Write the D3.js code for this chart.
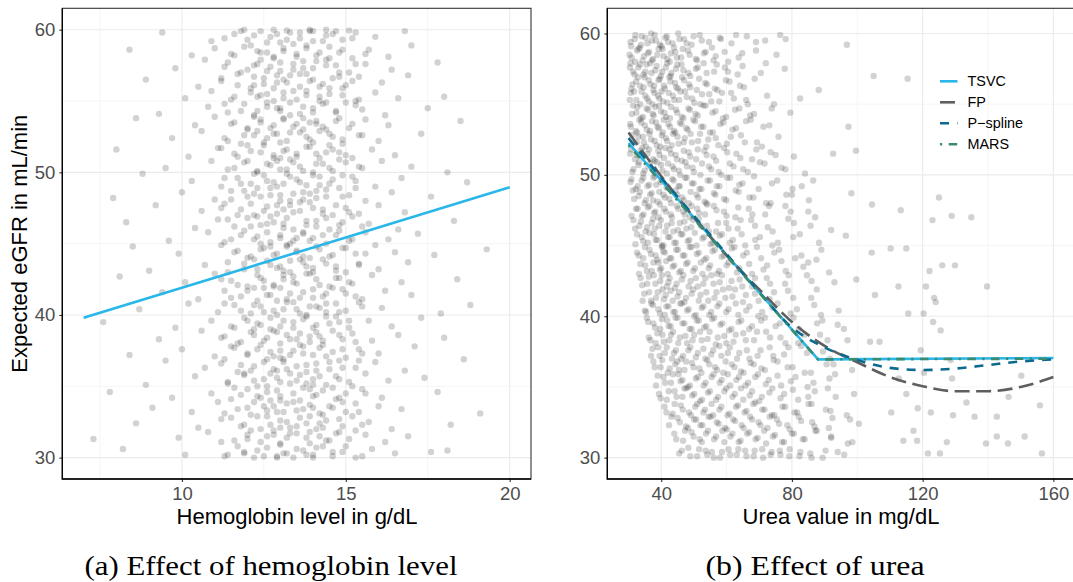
<!DOCTYPE html>
<html><head><meta charset="utf-8">
<script src="https://cdn.jsdelivr.net/npm/d3@7"></script>
<style>body{margin:0;background:#fff}svg{display:block}</style>
</head><body><svg id="c" width="1073" height="582"></svg>
<script>
// ---------------- DATA ----------------
const hbTicks = [10, 15, 20];
const hbMinor = [7.5, 12.5, 17.5];
const ureaTicks = [40, 80, 120, 160];
const ureaMinor = [60, 100, 140];
const yTicks = [30, 40, 50, 60];
const yMinor = [35, 45, 55];

// effect of hemoglobin (TSVC, linear)
const hbLineX = [7, 20];
const hbLineY = [39.8, 48.95];

// effect of urea, four methods
const seriesNames = ["TSVC", "FP", "P\u2212spline", "MARS"];
const tsvcX = [30, 88, 160];
const tsvcY = [52.25, 36.95, 37.05];
const fpX = [30, 40, 50, 60, 70, 80, 90, 100, 110, 120, 130, 140, 150, 160];
const fpY = [53.0, 49.9, 47.0, 44.3, 41.9, 39.6, 37.9, 36.75, 35.7, 35.05, 34.7, 34.7, 35.0, 35.7];
const psX = [30, 40, 50, 60, 70, 80, 90, 100, 110, 120, 130, 140, 150, 160];
const psY = [52.6, 49.8, 47.1, 44.4, 41.7, 39.2, 37.8, 36.9, 36.35, 36.2, 36.3, 36.55, 36.8, 36.95];
const marsX = [30, 88, 160];
const marsY = [52.1, 36.95, 37.0];

const hbScatter = `
8.2,30.6 10.1,30.2 11.3,30.1 11.9,30.4 12.2,30.0 12.6,30.7 12.9,30.1 13.1,30.3 13.4,30.0 13.7,30.5 14.0,30.2 14.3,30.8 14.6,30.1 14.9,30.4 15.3,30.0 15.8,30.6 16.5,30.3 17.6,30.4 18.1,30.5
7.3,31.3 9.9,31.4 10.8,31.8 11.6,31.2 12.0,31.6 12.4,31.1 12.8,31.9 13.2,31.4 13.5,31.7 13.9,31.0 14.2,31.5 14.5,31.2 14.8,31.8 15.1,31.3 15.6,31.6 16.2,31.1 16.9,31.5
8.6,32.4 10.5,32.1 11.2,32.7 11.8,32.2 12.3,32.9 12.7,32.3 13.0,32.6 13.3,32.1 13.6,32.8 13.8,32.4 14.1,32.0 14.4,32.6 14.9,32.2 15.2,32.9 15.7,32.5 16.4,32.0 18.2,32.3
9.1,33.5 10.3,33.2 11.1,33.9 11.7,33.4 12.1,33.0 12.5,33.6 12.9,33.2 13.2,33.8 13.5,33.3 13.9,33.7 14.2,33.1 14.6,33.5 14.9,33.9 15.4,33.2 16.0,33.6 16.7,33.4 19.1,33.1
7.8,34.6 9.7,34.2 10.9,34.5 11.5,34.1 12.0,34.8 12.3,34.3 12.6,34.6 13.0,34.0 13.4,34.5 13.7,34.9 14.0,34.3 14.3,34.7 14.7,34.1 15.0,34.5 15.5,34.8 16.1,34.2 17.8,34.6
8.9,35.1 10.4,35.7 11.4,35.3 11.9,35.9 12.2,35.4 12.6,35.0 12.9,35.6 13.3,35.2 13.6,35.8 14.0,35.5 14.4,35.1 14.7,35.7 15.1,35.3 15.6,35.9 16.3,35.4 17.4,35.6
9.5,36.8 10.7,36.3 11.3,36.9 11.8,36.5 12.1,36.1 12.5,36.7 12.8,36.2 13.1,36.9 13.5,36.4 13.8,36.0 14.1,36.6 14.5,36.2 14.8,36.8 15.3,36.3 15.9,36.7 16.8,36.1 18.6,36.9
8.4,37.2 10.0,37.6 11.0,37.1 11.6,37.7 12.0,37.3 12.4,37.9 12.7,37.4 13.0,37.0 13.4,37.5 13.7,37.8 14.0,37.2 14.3,37.9 14.6,37.4 15.0,37.0 15.4,37.6 16.0,37.3 17.1,37.8
9.3,38.3 10.6,38.9 11.2,38.4 11.7,38.0 12.2,38.6 12.5,38.2 12.9,38.8 13.3,38.3 13.6,38.7 13.9,38.1 14.2,38.5 14.6,38.9 14.9,38.3 15.2,38.7 15.8,38.2 16.6,38.6 18.0,38.4
7.6,39.5 9.8,39.1 10.9,39.6 11.5,39.2 11.9,39.8 12.3,39.4 12.7,39.0 13.1,39.6 13.4,39.1 13.7,39.7 14.1,39.3 14.4,39.9 14.8,39.5 15.1,39.1 15.7,39.6 16.4,39.2 17.3,39.8
8.7,40.4 10.2,40.8 11.1,40.2 11.6,40.7 12.1,40.1 12.4,40.6 12.8,40.3 13.2,40.9 13.5,40.4 13.8,40.0 14.1,40.6 14.4,40.2 14.7,40.8 15.0,40.3 15.4,40.9 16.1,40.5 17.9,40.1 18.8,40.7
9.4,41.6 10.5,41.1 11.3,41.7 11.8,41.3 12.2,41.9 12.6,41.4 12.9,41.0 13.3,41.5 13.6,41.2 14.0,41.8 14.3,41.3 14.6,41.9 15.0,41.5 15.5,41.1 16.2,41.7 17.0,41.4
8.1,42.7 10.1,42.3 11.0,42.9 11.5,42.4 12.0,42.0 12.4,42.6 12.8,42.1 13.1,42.8 13.4,42.3 13.8,42.9 14.1,42.5 14.5,42.0 14.8,42.6 15.2,42.2 15.8,42.8 16.7,42.3 18.4,42.5
9.0,43.1 10.7,43.5 11.4,43.0 11.9,43.6 12.3,43.2 12.6,43.8 13.0,43.4 13.3,43.0 13.7,43.7 14.0,43.3 14.3,43.9 14.7,43.4 15.0,43.0 15.4,43.6 16.0,43.2 16.9,43.7
8.5,44.8 9.9,44.3 11.2,44.9 11.7,44.5 12.1,44.1 12.5,44.7 12.8,44.2 13.2,44.8 13.5,44.4 13.9,44.0 14.2,44.6 14.5,44.1 14.9,44.7 15.3,44.3 15.9,44.9 16.5,44.4 17.7,44.2 19.3,44.6
9.6,45.2 10.8,45.8 11.5,45.3 11.9,45.9 12.3,45.5 12.7,45.1 13.0,45.6 13.4,45.2 13.7,45.8 14.0,45.4 14.4,45.0 14.7,45.6 15.1,45.2 15.6,45.8 16.3,45.3 17.2,45.7
8.3,46.5 10.4,46.1 11.1,46.7 11.6,46.2 12.0,46.8 12.4,46.3 12.7,46.9 13.1,46.4 13.4,46.0 13.8,46.6 14.1,46.2 14.4,46.8 14.8,46.3 15.2,46.9 15.7,46.4 16.6,46.0 18.3,46.6
9.2,47.7 10.6,47.3 11.3,47.8 11.8,47.4 12.2,47.0 12.6,47.6 12.9,47.1 13.3,47.7 13.6,47.3 13.9,47.9 14.3,47.4 14.6,47.0 15.0,47.5 15.4,47.1 16.0,47.7 16.8,47.2
7.9,48.2 10.0,48.6 11.0,48.1 11.5,48.7 12.0,48.3 12.3,48.9 12.7,48.4 13.0,48.0 13.4,48.5 13.7,48.1 14.1,48.7 14.4,48.3 14.8,48.9 15.1,48.4 15.6,48.0 16.4,48.6 17.6,48.3
8.8,49.9 10.3,49.4 11.2,49.0 11.7,49.6 12.1,49.2 12.5,49.8 12.8,49.3 13.2,49.9 13.5,49.5 13.8,49.1 14.2,49.7 14.5,49.2 14.9,49.8 15.3,49.4 15.9,49.0 16.7,49.6 18.7,49.3
9.5,50.3 10.9,50.8 11.4,50.2 11.9,50.7 12.3,50.1 12.6,50.6 13.0,50.2 13.3,50.9 13.6,50.4 14.0,50.0 14.3,50.6 14.6,50.1 15.0,50.7 15.5,50.3 16.1,50.8 17.0,50.4 18.1,50.0
8.0,51.6 10.2,51.1 11.1,51.7 11.6,51.3 12.0,51.9 12.4,51.4 12.8,51.0 13.1,51.5 13.5,51.1 13.8,51.8 14.1,51.3 14.5,51.9 14.8,51.4 15.2,51.0 15.8,51.6 16.5,51.2
9.7,52.4 10.6,52.9 11.3,52.4 11.8,52.0 12.2,52.6 12.5,52.1 12.9,52.7 13.2,52.2 13.6,52.8 13.9,52.3 14.2,52.9 14.6,52.5 14.9,52.0 15.4,52.6 16.0,52.2 17.3,52.7
8.6,53.8 10.4,53.3 11.0,53.9 11.5,53.4 12.0,53.0 12.4,53.5 12.7,53.1 13.1,53.7 13.4,53.2 13.7,53.8 14.1,53.4 14.4,53.0 14.7,53.6 15.1,53.1 15.6,53.7 16.3,53.3 18.5,53.6
9.3,54.1 10.8,54.6 11.4,54.2 11.9,54.8 12.3,54.3 12.6,54.9 13.0,54.5 13.3,54.0 13.7,54.6 14.0,54.2 14.3,54.8 14.7,54.3 15.0,54.9 15.5,54.4 16.2,54.0 17.5,54.5
10.1,55.2 10.9,55.7 11.6,55.3 12.1,55.9 12.4,55.4 12.8,55.0 13.1,55.6 13.5,55.1 13.8,55.7 14.2,55.3 14.5,55.9 14.9,55.4 15.3,55.0 15.9,55.6 16.6,55.2 18.0,55.3
8.9,56.5 10.5,56.0 11.2,56.6 11.7,56.1 12.2,56.7 12.5,56.2 12.9,56.8 13.2,56.3 13.6,56.9 13.9,56.4 14.2,56.0 14.6,56.6 15.0,56.1 15.4,56.7 16.1,56.3 16.9,56.8
9.8,57.3 10.7,57.9 11.3,57.4 11.8,57.0 12.3,57.6 12.6,57.1 13.0,57.7 13.4,57.2 13.7,57.8 14.0,57.3 14.4,57.9 14.7,57.5 15.1,57.0 15.6,57.6 16.4,57.2 17.8,57.7
8.4,58.6 10.3,58.2 11.0,58.7 11.5,58.3 12.1,58.9 12.4,58.4 12.8,58.0 13.1,58.5 13.5,58.1 13.8,58.7 14.1,58.2 14.5,58.8 14.8,58.4 15.2,58.0 15.7,58.6 16.3,58.1 17.0,58.9
9.4,59.8 10.9,59.2 11.6,59.7 12.0,59.3 12.4,59.9 12.7,59.5 13.0,59.1 13.3,59.8 13.6,59.4 14.0,59.9 14.3,59.2 14.6,59.7 14.9,59.3 15.3,59.8 15.9,59.5 16.8,59.9
11.9,60.0 12.8,60.0 13.2,59.95 13.9,60.0 14.4,60.0 15.1,59.95`;

// denser core of the hemoglobin cloud
const hbCore = `
11.4,30.2 11.7,30.8 12.3,30.5 12.5,30.1 13.0,30.9 13.2,30.3 13.5,30.6 14.0,30.0 14.1,30.7 14.6,30.4 15.0,30.8 15.5,30.1 13.8,30.2 12.9,30.0 11.9,30.3
11.2,31.1 12.0,31.3 12.1,31.9 12.6,31.5 13.0,31.0 13.3,31.7 13.8,31.4 13.9,31.8 14.4,31.2 14.7,31.7 15.3,31.9 12.8,31.6
11.5,32.8 11.9,32.3 12.4,32.0 12.6,32.9 13.2,32.5 13.5,32.2 13.9,32.9 14.2,32.4 14.3,32.1 14.8,32.7 15.5,32.3 13.0,32.1
11.3,33.1 12.0,33.5 12.2,33.9 12.8,33.6 13.1,33.2 13.4,33.9 13.7,33.4 14.3,33.0 14.5,33.6 15.0,33.2 15.3,33.8 12.6,33.3 14.0,33.5
11.6,34.9 11.8,34.4 12.4,34.2 12.9,34.7 13.0,34.3 13.6,34.0 13.9,34.8 14.1,34.4 14.6,34.9 14.8,34.2 15.6,34.5 12.7,34.0
11.4,35.2 11.9,35.8 12.3,35.0 12.5,35.5 13.0,35.3 13.3,35.9 13.5,35.4 14.0,35.1 14.2,35.7 14.8,35.5 15.2,35.0 12.7,35.9 13.8,35.2
11.2,36.6 11.7,36.0 12.2,36.4 12.6,36.9 13.1,36.7 13.2,36.2 13.8,36.5 14.1,36.1 14.5,36.7 14.9,36.3 15.4,36.8 12.9,36.1
11.5,37.8 12.0,37.2 12.3,37.6 12.8,37.1 13.0,37.5 13.6,37.9 13.7,37.3 14.2,37.7 14.4,37.1 14.9,37.6 15.5,37.3 13.3,37.2
11.3,38.5 11.8,38.1 12.1,38.8 12.6,38.4 13.0,38.0 13.2,38.6 13.5,38.3 14.1,38.8 14.3,38.2 14.8,38.6 15.3,38.1 12.8,38.9 13.9,38.5
11.6,39.1 12.0,39.6 12.4,39.3 12.7,39.8 13.0,39.2 13.4,39.5 13.8,39.9 14.0,39.1 14.5,39.4 14.7,39.9 15.1,39.6 12.2,39.0
11.3,40.8 11.8,40.3 12.2,40.7 12.5,40.2 13.1,40.4 13.4,40.9 13.6,40.1 14.2,40.5 14.4,40.8 14.8,40.2 15.5,40.6 12.9,40.0 13.9,40.6
11.5,41.2 12.0,41.7 12.3,41.0 12.7,41.4 13.0,41.9 13.2,41.1 13.7,41.6 14.0,41.2 14.4,41.5 14.9,41.8 15.3,41.3 12.5,41.9
11.2,42.5 11.7,42.1 12.3,42.8 12.5,42.4 12.8,42.0 13.4,42.7 13.5,42.2 13.9,42.9 14.2,42.1 14.7,42.6 15.1,42.3 13.1,42.5
11.4,43.7 11.9,43.2 12.2,43.9 12.7,43.5 13.1,43.1 13.3,43.8 13.8,43.4 14.0,43.0 14.4,43.6 14.7,43.1 15.4,43.5 12.9,43.3 13.6,43.9
11.6,44.4 12.0,44.0 12.4,44.6 12.9,44.3 13.2,44.9 13.5,44.5 13.7,44.1 14.1,44.8 14.6,44.2 15.0,44.7 15.6,44.3 12.7,44.8
11.3,45.1 11.8,45.6 12.2,45.3 12.6,45.8 13.0,45.4 13.3,45.0 13.7,45.7 13.9,45.2 14.3,45.6 14.8,45.9 15.2,45.3 12.4,45.0 13.5,45.4
11.4,46.7 12.1,46.2 12.3,46.9 12.8,46.5 13.1,46.1 13.2,46.8 13.8,46.3 14.1,46.6 14.5,46.0 14.9,46.5 15.5,46.2 12.6,46.4
11.2,47.5 11.7,47.0 12.1,47.8 12.5,47.3 12.9,47.7 13.4,47.2 13.6,47.9 14.0,47.5 14.3,47.1 14.7,47.7 15.1,47.2 13.1,47.4
11.5,48.1 11.9,48.7 12.4,48.3 12.7,48.9 13.0,48.4 13.3,48.0 13.7,48.6 14.1,48.2 14.4,48.8 14.9,48.3 15.3,48.9 12.2,48.5 13.9,48.5
11.3,49.6 11.8,49.2 12.2,49.9 12.6,49.4 12.9,49.0 13.3,49.7 13.6,49.3 14.0,49.8 14.2,49.1 14.6,49.5 15.2,49.7 13.1,49.2
11.6,50.3 12.0,50.8 12.3,50.0 12.7,50.5 13.2,50.2 13.4,50.7 13.7,50.1 14.1,50.6 14.5,50.3 14.8,50.9 15.4,50.4 12.9,50.8
11.2,51.7 11.7,51.1 12.1,51.5 12.5,51.9 12.8,51.2 13.2,51.6 13.5,51.3 13.9,51.8 14.2,51.0 14.6,51.6 15.0,51.2 13.0,51.0 14.4,51.4
11.4,52.2 11.9,52.6 12.3,52.9 12.6,52.4 13.0,52.1 13.3,52.8 13.8,52.5 14.0,52.1 14.5,52.7 14.9,52.3 15.5,52.6 12.8,52.7
11.6,53.5 12.0,53.1 12.4,53.7 12.8,53.3 13.1,53.8 13.5,53.4 13.7,53.0 14.1,53.6 14.3,53.2 14.8,53.8 15.2,53.4 12.2,53.9 13.9,53.5
11.3,54.8 11.8,54.3 12.2,54.0 12.6,54.6 13.0,54.3 13.3,54.9 13.6,54.1 14.0,54.5 14.4,54.9 14.7,54.2 15.3,54.7 12.9,54.5
11.5,55.1 12.1,55.6 12.3,55.3 12.8,55.9 13.1,55.2 13.4,55.7 13.8,55.4 14.2,55.0 14.5,55.5 14.9,55.9 15.4,55.1 12.6,55.5
11.2,56.4 11.7,56.9 12.2,56.1 12.5,56.6 12.9,56.3 13.3,56.8 13.6,56.0 14.0,56.5 14.3,56.2 14.8,56.7 15.2,56.4 13.1,56.5 13.8,56.9
11.4,57.7 12.0,57.2 12.4,57.9 12.7,57.4 13.0,57.1 13.4,57.6 13.7,57.3 14.1,57.8 14.4,57.5 14.8,57.0 15.3,57.6 12.2,57.5
11.6,58.2 11.9,58.8 12.3,58.5 12.8,58.1 13.1,58.7 13.5,58.3 13.8,58.9 14.2,58.4 14.5,58.0 14.9,58.6 15.6,58.3 12.6,58.4
11.3,59.4 11.8,59.9 12.2,59.6 12.6,59.1 12.9,59.7 13.2,59.3 13.6,59.8 14.0,59.2 14.4,59.6 14.7,59.9 15.2,59.4 13.4,59.0 13.9,59.9`;

const ureaScatter = `
30.6,59.4 32.1,59.9 33.8,59.2 35.2,59.7 36.9,60.0 38.4,59.5 40.1,59.1 41.7,59.8 43.5,59.3 45.2,60.0 47.0,59.6 49.3,59.2 51.8,59.9 54.6,59.4 57.9,59.7 61.5,59.3 66.2,59.8 71.8,59.5 76.4,59.9 78.1,59.6 96.8,59.2
30.9,58.3 32.6,58.8 34.3,58.1 35.9,58.6 37.5,58.2 39.2,58.9 40.8,58.4 42.6,58.0 44.3,58.7 46.1,58.3 48.2,58.8 50.6,58.2 53.1,58.6 56.0,58.1 59.4,58.7 63.7,58.3 69.0,58.8 75.3,58.5
30.4,57.6 31.8,57.1 33.5,57.8 35.1,57.3 36.6,57.9 38.2,57.4 39.9,57.0 41.4,57.6 43.1,57.2 44.9,57.8 46.8,57.4 48.9,57.0 51.2,57.6 53.9,57.2 57.0,57.8 60.4,57.3 64.9,57.7 70.5,57.2 77.8,57.5 105.0,57.0 115.4,56.8
31.2,56.4 32.9,56.9 34.6,56.2 36.2,56.7 37.8,56.3 39.5,56.8 41.1,56.1 42.8,56.6 44.6,56.2 46.4,56.9 48.5,56.4 50.9,56.0 53.5,56.5 56.4,56.1 59.8,56.7 64.1,56.3 68.6,56.8 88.2,56.0
30.7,55.8 32.4,55.3 34.0,55.9 35.7,55.4 37.3,55.0 39.0,55.6 40.6,55.2 42.3,55.8 44.0,55.3 45.9,55.9 47.8,55.5 50.1,55.1 52.5,55.7 55.3,55.2 58.6,55.8 62.2,55.4 66.5,55.0 72.4,55.6 82.5,55.4
31.0,54.3 32.7,54.8 34.4,54.1 36.0,54.6 37.7,54.2 39.3,54.9 41.0,54.4 42.7,54.0 44.5,54.6 46.3,54.1 48.3,54.7 50.5,54.3 52.9,54.9 55.7,54.4 58.9,54.0 62.6,54.6 67.2,54.2 73.8,54.7 79.5,54.4
30.5,53.6 32.2,53.1 33.9,53.7 35.6,53.2 37.2,53.8 38.9,53.4 40.5,53.0 42.2,53.6 43.9,53.1 45.7,53.7 47.7,53.3 49.8,53.9 52.2,53.4 54.9,53.0 58.1,53.6 61.8,53.2 66.0,53.8 71.3,53.4 97.3,53.4
31.3,52.2 33.0,52.7 34.7,52.3 36.4,52.9 38.0,52.4 39.7,52.0 41.4,52.6 43.2,52.1 45.0,52.7 46.9,52.3 49.0,52.9 51.3,52.4 53.8,52.0 56.7,52.6 60.1,52.2 64.4,52.8 69.3,52.3 75.9,52.7
30.8,51.8 32.5,51.4 34.2,51.9 35.8,51.5 37.5,51.1 39.1,51.7 40.9,51.2 42.6,51.8 44.4,51.4 46.3,51.0 48.4,51.6 50.7,51.1 53.2,51.7 56.0,51.3 59.2,51.9 63.0,51.5 67.8,51.1 73.5,51.6 80.6,51.3 92.6,51.5 99.6,51.7
31.5,50.4 33.2,50.9 34.9,50.3 36.6,50.8 38.3,50.2 40.0,50.7 41.7,50.1 43.5,50.6 45.4,50.3 47.4,50.9 49.6,50.5 52.0,50.0 54.6,50.6 57.6,50.2 61.0,50.8 65.1,50.4 70.2,50.9 76.8,50.5 84.0,50.1
30.9,49.7 32.8,49.2 34.5,49.8 36.3,49.3 38.0,49.9 39.8,49.5 41.6,49.1 43.4,49.7 45.3,49.2 47.3,49.8 49.4,49.4 51.7,49.0 54.2,49.6 57.0,49.2 60.2,49.8 63.9,49.3 68.4,49.9 73.9,49.4 80.2,49.0 86.5,49.6
31.7,48.3 33.5,48.8 35.3,48.2 37.1,48.7 38.9,48.1 40.7,48.6 42.5,48.3 44.4,48.9 46.4,48.4 48.5,48.0 50.8,48.6 53.3,48.1 56.1,48.7 59.2,48.3 62.8,48.9 67.0,48.4 72.1,48.0 78.3,48.6 85.2,48.2 98.2,48.7 104.5,47.9 125.0,48.4
32.3,47.6 34.1,47.1 35.9,47.7 37.8,47.3 39.6,47.9 41.4,47.4 43.3,47.0 45.2,47.6 47.2,47.2 49.3,47.8 51.6,47.3 54.1,47.9 56.9,47.5 60.0,47.1 63.6,47.7 67.9,47.2 73.0,47.8 79.6,47.4 87.1,47.0 113.3,47.5 128.9,47.1 134.9,47.0
32.0,46.2 33.8,46.7 35.7,46.3 37.5,46.9 39.4,46.4 41.3,46.0 43.2,46.6 45.1,46.1 47.1,46.7 49.2,46.3 51.5,46.9 54.0,46.4 56.8,46.0 59.9,46.6 63.4,46.2 67.5,46.8 72.6,46.3 78.9,46.9 85.7,46.4 92.0,46.1 123.0,46.8
32.6,45.8 34.5,45.3 36.4,45.9 38.3,45.4 40.2,45.0 42.1,45.6 44.0,45.2 46.0,45.8 48.1,45.3 50.3,45.9 52.6,45.5 55.1,45.1 57.9,45.7 61.0,45.2 64.6,45.8 68.8,45.4 74.0,45.0 80.4,45.6 88.3,45.2 96.5,45.7
33.1,44.3 35.0,44.9 36.9,44.4 38.8,44.0 40.7,44.6 42.6,44.1 44.6,44.7 46.6,44.3 48.7,44.9 50.9,44.4 53.2,44.0 55.7,44.6 58.5,44.2 61.6,44.8 65.1,44.3 69.3,44.9 74.6,44.5 81.0,44.1 89.0,44.7 104.4,44.5 110.2,44.8 115.0,44.8
33.6,43.7 35.6,43.2 37.6,43.8 39.6,43.3 41.5,43.9 43.5,43.5 45.5,43.1 47.6,43.7 49.8,43.2 52.1,43.8 54.5,43.4 57.1,43.0 60.0,43.6 63.2,43.1 66.9,43.7 71.3,43.3 76.8,43.9 83.5,43.5 91.4,43.1 122.1,43.2 126.0,43.6 129.9,43.6
34.2,42.2 36.2,42.8 38.2,42.3 40.2,42.9 42.2,42.4 44.2,42.0 46.3,42.6 48.4,42.1 50.6,42.7 52.9,42.3 55.3,42.9 57.9,42.4 60.8,42.0 64.0,42.6 67.8,42.1 72.3,42.7 77.9,42.3 84.6,42.9 93.0,42.4 99.7,42.6 112.6,42.1 121.0,42.1 139.7,42.1
34.8,41.6 36.9,41.1 38.9,41.7 40.9,41.2 42.9,41.8 45.0,41.4 47.1,41.0 49.3,41.6 51.5,41.1 53.8,41.7 56.3,41.3 58.9,41.9 61.8,41.4 65.0,41.0 68.7,41.6 73.2,41.2 78.8,41.8 85.9,41.3 105.4,41.5 123.5,41.3 124.0,41.0
35.4,40.3 37.5,40.8 39.6,40.2 41.6,40.7 43.7,40.3 45.8,40.9 47.9,40.4 50.1,40.0 52.4,40.6 54.7,40.1 57.2,40.7 59.9,40.3 62.8,40.9 66.0,40.4 69.7,40.0 74.1,40.6 79.6,40.2 86.8,40.8 94.3,40.4 115.6,40.2 120.3,40.2
36.0,39.6 38.1,39.2 40.2,39.8 42.3,39.3 44.4,39.9 46.5,39.5 48.7,39.1 50.9,39.7 53.2,39.2 55.6,39.8 58.1,39.4 60.8,39.0 63.7,39.6 66.9,39.1 70.6,39.7 75.0,39.3 80.5,39.9 87.7,39.5 95.9,39.1 123.2,39.6 125.5,39.0
36.7,38.3 38.8,38.8 40.9,38.2 43.0,38.7 45.2,38.1 47.4,38.6 49.6,38.3 51.9,38.9 54.2,38.4 56.7,38.0 59.3,38.6 62.1,38.2 65.1,38.8 68.4,38.3 72.1,38.9 76.5,38.5 81.9,38.1 88.6,38.7 97.0,38.3 103.9,38.2 106.8,38.2
37.3,37.7 39.5,37.2 41.7,37.8 43.9,37.4 46.1,37.0 48.3,37.6 50.6,37.1 52.9,37.7 55.3,37.3 57.8,37.9 60.4,37.4 63.2,37.0 66.2,37.6 69.5,37.2 73.2,37.8 77.6,37.3 82.8,37.9 89.5,37.5 119.4,37.6 128.6,36.9
38.0,36.4 40.3,36.9 42.6,36.3 44.9,36.8 47.1,36.2 49.4,36.7 51.7,36.3 54.1,36.9 56.5,36.4 59.0,36.0 61.6,36.6 64.4,36.1 67.4,36.7 70.7,36.3 74.4,36.9 78.7,36.4 83.9,36.0 90.6,36.6 98.4,36.2 120.4,36.0
38.9,35.8 41.2,35.3 43.6,35.9 45.9,35.4 48.2,35.0 50.6,35.6 53.0,35.1 55.4,35.7 57.9,35.3 60.4,35.9 63.0,35.5 65.8,35.1 68.8,35.7 72.0,35.2 75.6,35.8 79.7,35.4 84.8,35.0 91.5,35.6 112.7,35.6 129.0,35.6 150.2,35.8
39.8,34.2 42.3,34.7 44.7,34.3 47.1,34.9 49.5,34.4 51.9,34.0 54.3,34.6 56.8,34.1 59.3,34.7 61.8,34.3 64.4,34.9 67.1,34.4 70.0,34.0 73.1,34.6 76.5,34.2 80.3,34.8 85.0,34.3 91.0,34.9 99.0,34.5 115.0,34.5 133.4,33.9 146.3,34.3
41.0,33.6 43.5,33.1 46.0,33.7 48.5,33.2 51.0,33.8 53.4,33.4 55.9,33.0 58.4,33.6 60.9,33.1 63.5,33.7 66.1,33.3 68.8,33.9 71.6,33.4 74.6,33.0 77.9,33.6 81.6,33.2 86.0,33.8 91.8,33.3 110.4,33.2 118.5,33.5 122.5,33.2 129.3,33.0 155.9,33.7
42.4,32.3 45.0,32.8 47.6,32.2 50.1,32.7 52.6,32.3 55.1,32.9 57.6,32.4 60.1,32.0 62.6,32.6 65.2,32.1 67.8,32.7 70.4,32.3 73.2,32.9 76.1,32.4 79.3,32.0 82.8,32.6 86.9,32.2 92.4,32.8 100.5,32.4 135.9,32.9 142.7,32.9
44.0,31.7 46.7,31.2 49.3,31.8 51.8,31.3 54.3,31.9 56.8,31.5 59.3,31.1 61.8,31.7 64.3,31.2 66.9,31.8 69.5,31.4 72.1,31.0 74.8,31.6 77.6,31.1 80.6,31.7 83.9,31.3 87.6,31.9 92.0,31.4 97.1,31.0 114.1,31.2 117.2,31.9 118.3,31.2 127.4,31.1 139.4,31.0 142.7,31.5 146.1,31.0 151.2,31.5
45.5,30.3 48.3,30.7 51.0,30.1 53.6,30.5 56.1,30.0 58.6,30.4 61.1,30.2 63.6,30.6 66.1,30.1 68.6,30.5 71.2,30.0 73.8,30.4 76.5,30.2 79.3,30.6 82.3,30.1 85.6,30.3 89.4,30.0 94.0,30.4 121.6,30.3 125.3,30.3 156.5,30.3`;

// denser core of the urea cloud
const ureaCore = `
30.8,59.1 31.9,59.6 33.4,59.0 34.0,59.8 35.8,59.3 37.1,59.5 38.0,59.9 39.6,59.2 41.3,59.7 42.1,59.4 43.9,59.0 45.6,59.6 47.8,59.3 49.9,59.8 52.4,59.5 55.5,59.0 58.3,59.6 62.9,59.9 69.0,59.4
30.3,58.5 32.0,58.0 33.1,58.9 34.7,58.4 36.3,58.7 37.2,58.1 38.8,58.5 40.4,58.9 41.9,58.2 43.0,58.6 44.8,58.3 46.6,58.9 48.7,58.5 51.0,58.1 53.6,58.7 56.7,58.4 60.5,58.0 64.8,58.6
30.6,57.9 31.4,57.3 33.0,57.6 34.6,57.1 35.5,57.8 37.0,57.2 38.6,57.7 40.3,57.3 41.8,57.9 42.9,57.0 44.5,57.5 46.2,57.8 48.3,57.2 50.6,57.5 53.0,57.9 56.2,57.3 59.5,57.6 63.4,57.1 72.0,57.9
30.9,56.1 32.3,56.6 33.5,56.3 34.9,56.9 36.7,56.4 37.6,56.0 39.2,56.7 40.9,56.3 42.5,56.9 44.2,56.5 45.1,56.1 47.0,56.7 48.9,56.2 51.6,56.8 54.0,56.4 57.2,56.0 60.9,56.6 65.3,56.2
30.4,55.3 31.7,55.9 33.6,55.0 35.1,55.6 36.2,55.2 37.9,55.8 39.4,55.4 40.1,55.9 41.9,55.1 43.6,55.6 45.5,55.3 47.3,55.9 49.5,55.4 52.0,55.0 54.7,55.7 57.8,55.2 61.4,55.8 66.0,55.3 74.5,55.0
31.4,54.9 32.4,54.4 33.9,54.0 35.5,54.7 37.4,54.3 38.2,54.8 39.9,54.5 41.5,54.1 43.0,54.8 44.9,54.4 46.8,54.0 48.8,54.6 51.2,54.2 53.6,54.9 56.6,54.5 59.9,54.1 63.9,54.7 68.4,54.3
30.7,53.4 32.6,53.0 33.3,53.9 35.0,53.5 36.6,53.1 38.4,53.7 39.2,53.3 40.9,53.9 42.7,53.4 44.3,53.0 46.2,53.6 48.1,53.2 50.4,53.8 52.9,53.4 55.8,53.0 59.0,53.7 62.9,53.3 67.4,53.9 73.1,53.5
31.0,52.8 32.5,52.3 34.4,52.7 35.3,52.0 36.9,52.5 38.6,52.1 40.2,52.8 41.8,52.4 43.6,52.9 45.3,52.2 47.2,52.6 49.4,52.3 51.9,52.9 54.4,52.5 57.5,52.1 61.3,52.7 65.6,52.3 70.8,52.0
30.5,51.5 32.0,51.1 33.7,51.7 34.6,51.3 36.3,51.8 38.0,51.0 39.5,51.4 41.3,51.9 43.0,51.5 44.8,51.1 46.9,51.7 48.9,51.3 51.2,51.8 53.9,51.4 56.8,51.0 60.2,51.6 64.2,51.2 69.1,51.8 75.0,51.4
31.2,50.2 33.0,50.7 34.5,50.1 36.1,50.6 37.9,50.4 38.7,50.9 40.4,50.3 42.1,50.8 43.9,50.4 45.8,50.0 47.9,50.6 50.0,50.2 52.5,50.8 55.3,50.4 58.4,50.0 62.1,50.6 66.5,50.2 71.6,50.8 78.0,50.4
30.6,49.5 32.2,49.0 34.0,49.6 35.8,49.2 37.6,49.8 38.5,49.3 40.2,49.7 42.0,49.1 43.8,49.6 45.7,49.2 47.8,49.8 49.9,49.4 52.3,49.0 54.9,49.6 57.8,49.2 61.1,49.8 64.9,49.4 69.8,49.0 75.5,49.6 83.0,49.2
31.3,48.9 33.1,48.5 34.9,48.0 36.6,48.6 37.5,48.2 39.4,48.8 41.2,48.4 43.0,48.0 44.9,48.6 46.9,48.2 49.0,48.8 51.3,48.4 53.8,48.0 56.6,48.6 59.9,48.2 63.7,48.8 68.2,48.4 73.5,48.0 80.0,48.6
30.9,47.1 32.8,47.6 34.6,47.2 36.4,47.8 38.2,47.4 39.1,47.0 41.0,47.6 42.9,47.2 44.8,47.8 46.7,47.4 48.8,47.0 51.0,47.6 53.4,47.2 56.1,47.8 59.2,47.4 62.7,47.0 66.8,47.6 71.8,47.2 78.0,47.8 85.0,47.4
31.5,46.8 33.3,46.4 35.2,46.0 37.1,46.6 38.0,46.2 39.9,46.8 41.8,46.4 43.7,46.0 45.7,46.6 47.7,46.2 49.8,46.8 52.1,46.4 54.6,46.0 57.4,46.6 60.6,46.2 64.3,46.8 68.7,46.4 74.1,46.0 80.6,46.6
32.1,45.1 34.0,45.6 35.9,45.2 37.8,45.8 38.8,45.4 40.7,45.0 42.6,45.6 44.5,45.2 46.5,45.8 48.6,45.4 50.8,45.0 53.1,45.6 55.7,45.2 58.6,45.8 61.9,45.4 65.7,45.0 70.2,45.6 75.7,45.2 82.4,45.8
32.6,44.5 34.5,44.1 36.4,44.7 38.3,44.3 40.2,44.9 41.1,44.5 43.1,44.1 45.1,44.7 47.1,44.3 49.2,44.9 51.5,44.5 53.8,44.1 56.4,44.7 59.2,44.3 62.4,44.9 66.2,44.5 70.6,44.1 76.1,44.7 82.9,44.3 87.5,44.0
33.2,43.0 35.1,43.6 37.1,43.2 39.1,43.8 40.0,43.4 42.0,43.0 44.0,43.6 46.0,43.2 48.1,43.8 50.3,43.4 52.6,43.0 55.0,43.6 57.7,43.2 60.6,43.8 63.9,43.4 67.8,43.0 72.4,43.6 78.1,43.2 85.0,43.8
33.7,42.7 35.7,42.3 37.7,42.9 39.7,42.5 41.7,42.1 42.6,42.7 44.7,42.3 46.8,42.9 49.0,42.5 51.2,42.1 53.5,42.7 56.0,42.3 58.6,42.9 61.5,42.5 64.8,42.1 68.7,42.7 73.3,42.3 79.0,42.9 86.0,42.5
34.3,41.1 36.3,41.7 38.4,41.3 40.4,41.9 41.4,41.5 43.5,41.1 45.5,41.7 47.6,41.3 49.8,41.9 52.0,41.5 54.4,41.1 56.9,41.7 59.6,41.3 62.6,41.9 65.9,41.5 69.8,41.1 74.5,41.7 80.4,41.3 87.6,41.9
35.0,40.4 37.0,40.9 39.1,40.5 41.1,40.1 42.2,40.7 44.2,40.3 46.3,40.9 48.4,40.5 50.6,40.1 52.9,40.7 55.3,40.3 57.8,40.9 60.6,40.5 63.6,40.1 67.0,40.7 70.9,40.3 75.6,40.9 81.5,40.5 88.9,40.1
35.6,39.9 37.6,39.5 39.7,39.1 41.8,39.7 42.9,39.3 45.0,39.9 47.1,39.5 49.3,39.1 51.5,39.7 53.8,39.3 56.2,39.9 58.7,39.5 61.5,39.1 64.5,39.7 67.8,39.3 71.7,39.9 76.3,39.5 82.1,39.1 89.3,39.7 94.0,39.4
36.2,38.5 38.3,38.1 40.4,38.7 42.5,38.3 43.6,38.9 45.7,38.5 47.9,38.1 50.1,38.7 52.4,38.3 54.8,38.9 57.3,38.5 59.9,38.1 62.8,38.7 65.9,38.3 69.3,38.9 73.3,38.5 78.0,38.1 83.8,38.7 90.9,38.3
36.9,37.2 39.0,37.8 41.1,37.4 43.3,37.0 44.5,37.6 46.7,37.2 48.9,37.8 51.2,37.4 53.5,37.0 55.9,37.6 58.4,37.2 61.0,37.8 63.9,37.4 67.0,37.0 70.4,37.6 74.3,37.2 78.9,37.8 84.6,37.4 91.6,37.0
37.6,36.8 39.8,36.4 42.0,36.0 44.3,36.6 45.4,36.2 47.6,36.8 49.9,36.4 52.3,36.0 54.7,36.6 57.1,36.2 59.7,36.8 62.4,36.4 65.2,36.0 68.3,36.6 71.7,36.2 75.6,36.8 80.2,36.4 85.8,36.0 92.7,36.6
38.4,35.1 40.7,35.7 43.0,35.3 45.3,35.9 46.5,35.5 48.8,35.1 51.2,35.7 53.6,35.3 56.0,35.9 58.5,35.5 61.1,35.1 63.8,35.7 66.6,35.3 69.6,35.9 72.9,35.5 76.7,35.1 81.1,35.7 86.6,35.3 93.2,35.9
39.3,34.5 41.7,34.1 44.1,34.7 46.5,34.3 47.7,34.9 50.1,34.5 52.5,34.1 54.9,34.7 57.4,34.3 59.9,34.9 62.5,34.5 65.1,34.1 67.8,34.7 70.8,34.3 74.0,34.9 77.6,34.5 81.9,34.1 87.0,34.7 93.4,34.3
41.6,33.2 44.1,33.8 46.6,33.4 49.1,33.0 50.4,33.6 52.9,33.2 55.4,33.8 57.8,33.4 60.3,33.0 62.9,33.6 65.5,33.2 68.2,33.8 70.9,33.4 73.9,33.0 77.1,33.6 80.8,33.2 85.1,33.8 90.4,33.4 96.8,33.0
43.1,32.9 45.7,32.5 48.2,32.1 50.7,32.7 52.0,32.3 54.5,32.9 57.0,32.5 59.5,32.1 62.0,32.7 64.6,32.3 67.2,32.9 69.8,32.5 72.5,32.1 75.4,32.7 78.6,32.3 82.1,32.9 86.2,32.5 91.3,32.1 97.8,32.7
44.6,31.3 47.3,31.9 49.9,31.5 52.4,31.1 53.7,31.7 56.2,31.3 58.7,31.9 61.2,31.5 63.7,31.1 66.3,31.7 68.9,31.3 71.5,31.9 74.2,31.5 77.0,31.1 80.0,31.7 83.3,31.3 87.2,31.9 92.0,31.5 98.5,31.1
46.3,30.5 48.9,30.1 51.6,30.6 54.1,30.2 55.5,30.4 58.0,30.0 60.6,30.6 63.1,30.2 65.7,30.5 68.3,30.1 70.9,30.6 73.5,30.2 76.3,30.5 79.2,30.1 82.6,30.4 86.0,30.0 90.3,30.5 96.0,30.2`;

const parsePairs = s => s.trim().split(/\s+/).map(p => p.split(",").map(Number));
const hbPts = parsePairs(hbScatter).concat(parsePairs(hbCore));
const ureaPts = parsePairs(ureaScatter).concat(parsePairs(ureaCore));

// ---------------- DRAW ----------------
const svg = d3.select("#c");
const SANS = "'Liberation Sans', Arial, Helvetica, sans-serif";
const SERIF = "'Liberation Serif', 'Times New Roman', serif";
const colors = {TSVC: "#29b6e8", FP: "#5e5e5e", PS: "#0b6a8e", MARS: "#3b8b6f"};
const LW = 2.6;

function panel(cfg) {
  const {x, y, xMajor, xMinor, pts, id} = cfg;
  const [px0, px1] = x.range();
  const [py1, py0] = y.range();
  const g = svg.append("g");
  g.append("clipPath").attr("id", id).append("rect")
    .attr("x", px0).attr("y", py0).attr("width", px1 - px0).attr("height", py1 - py0);
  const gp = g.append("g").attr("clip-path", `url(#${id})`);
  gp.selectAll(".vmin").data(xMinor).join("line")
    .attr("x1", d => x(d)).attr("x2", d => x(d)).attr("y1", py0).attr("y2", py1)
    .attr("stroke", "#f3f3f3").attr("stroke-width", 0.8);
  gp.selectAll(".hmin").data(yMinor).join("line")
    .attr("y1", d => y(d)).attr("y2", d => y(d)).attr("x1", px0).attr("x2", px1)
    .attr("stroke", "#f3f3f3").attr("stroke-width", 0.8);
  gp.selectAll(".vmaj").data(xMajor).join("line")
    .attr("x1", d => x(d)).attr("x2", d => x(d)).attr("y1", py0).attr("y2", py1)
    .attr("stroke", "#ebebeb").attr("stroke-width", 1.1);
  gp.selectAll(".hmaj").data(yTicks).join("line")
    .attr("y1", d => y(d)).attr("y2", d => y(d)).attr("x1", px0).attr("x2", px1)
    .attr("stroke", "#ebebeb").attr("stroke-width", 1.1);
  gp.selectAll("circle").data(pts).join("circle")
    .attr("cx", d => x(d[0])).attr("cy", d => y(d[1])).attr("r", 3.2)
    .attr("fill", "#000").attr("fill-opacity", 0.175);
  const ax = g.append("g").attr("transform", `translate(0,${py1})`)
    .call(d3.axisBottom(x).tickValues(xMajor).tickSize(3).tickSizeOuter(0).tickPadding(5));
  const ay = g.append("g").attr("transform", `translate(${px0},0)`)
    .call(d3.axisLeft(y).tickValues(yTicks).tickSize(3).tickSizeOuter(0).tickPadding(4));
  [ax, ay].forEach(a => {
    a.select(".domain").remove();
    a.selectAll(".tick line").attr("stroke", "#333").attr("stroke-width", 1.1);
    a.selectAll(".tick text").attr("fill", "#4d4d4d").style("font-family", SANS).style("font-size", "18.5px");
  });
  g.append("rect").attr("x", px0).attr("y", py0).attr("width", px1 - px0).attr("height", py1 - py0)
    .attr("fill", "none").attr("stroke", "#333").attr("stroke-width", 1.1);
  g.append("path").attr("d", `M${px0},${py0}V${py1}H${px1}`)
    .attr("fill", "none").attr("stroke", "#000").attr("stroke-width", 1.3);
  return gp;
}

// Panel (a)
const xL = d3.scaleLinear().domain([6.35, 20.65]).range([62.3, 531]);
const yL = d3.scaleLinear().domain([28.5, 61.5]).range([479, 8.3]);
const gL = panel({x: xL, y: yL, xMajor: hbTicks, xMinor: hbMinor, pts: hbPts, id: "clipL"});
gL.append("path").datum(d3.zip(hbLineX, hbLineY))
  .attr("d", d3.line().x(d => xL(d[0])).y(d => yL(d[1])))
  .attr("fill", "none").attr("stroke", colors.TSVC).attr("stroke-width", LW);

// Panel (b)
const xR = d3.scaleLinear().domain([23.5, 166.5]).range([607.3, 1074.6]);
const yR = d3.scaleLinear().domain([28.49, 61.78]).range([479, 8.3]);
const gR = panel({x: xR, y: yR, xMajor: ureaTicks, xMinor: ureaMinor, pts: ureaPts, id: "clipR"});
const lin = d3.line().x(d => xR(d[0])).y(d => yR(d[1]));
const smooth = d3.line().curve(d3.curveMonotoneX).x(d => xR(d[0])).y(d => yR(d[1]));
const dashes = {TSVC: null, FP: [15, 6.5], PS: [9, 8], MARS: [2.2, 6.5, 8.5, 6.5]};
const seriesDefs = [
  {key: "TSVC", data: d3.zip(tsvcX, tsvcY), gen: lin},
  {key: "FP", data: d3.zip(fpX, fpY), gen: smooth},
  {key: "PS", data: d3.zip(psX, psY), gen: smooth},
  {key: "MARS", data: d3.zip(marsX, marsY), gen: lin}
];
seriesDefs.forEach(s => {
  gR.append("path").datum(s.data).attr("d", s.gen)
    .attr("fill", "none").attr("stroke", colors[s.key]).attr("stroke-width", LW)
    .attr("stroke-dasharray", dashes[s.key] ? dashes[s.key].join(",") : null);
});

// Legend
const legY = [81.3, 102.3, 123.3, 144.2];
const lg = svg.append("g");
seriesDefs.forEach((s, i) => {
  lg.append("line").attr("x1", 940).attr("x2", 957.5).attr("y1", legY[i]).attr("y2", legY[i])
    .attr("stroke", colors[s.key]).attr("stroke-width", LW)
    .attr("stroke-dasharray", dashes[s.key] ? dashes[s.key].join(",") : null);
  lg.append("text").attr("x", 967.5).attr("y", legY[i]).attr("dy", "0.35em")
    .style("font-family", SANS).style("font-size", "14.4px").attr("fill", "#000")
    .text(seriesNames[i]);
});

// Axis titles
svg.append("text").attr("x", 297).attr("y", 524).attr("text-anchor", "middle")
  .style("font-family", SANS).style("font-size", "22px").text("Hemoglobin level in g/dL");
svg.append("text").attr("x", 841).attr("y", 524).attr("text-anchor", "middle")
  .style("font-family", SANS).style("font-size", "22px").text("Urea value in mg/dL");
svg.append("text").attr("transform", "translate(27,243.7) rotate(-90)").attr("text-anchor", "middle")
  .style("font-family", SANS).style("font-size", "22px").text("Expected eGFR in mL/min");

// Captions
svg.append("text").attr("x", 84.5).attr("y", 575).attr("textLength", 373).attr("lengthAdjust", "spacingAndGlyphs")
  .style("font-family", SERIF).style("font-size", "27px").text("(a) Effect of hemoglobin level");
svg.append("text").attr("x", 705.5).attr("y", 575).attr("textLength", 219).attr("lengthAdjust", "spacingAndGlyphs")
  .style("font-family", SERIF).style("font-size", "27px").text("(b) Effect of urea");
</script></body></html>
